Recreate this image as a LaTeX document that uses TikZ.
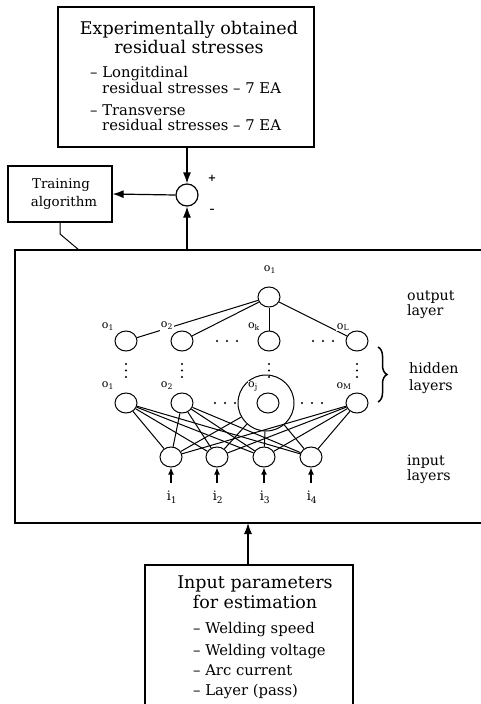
\documentclass[tikz,border=0pt]{standalone}
\usepackage{fontspec}
\setmainfont{DejaVu Serif}
\usetikzlibrary{arrows.meta,shapes.geometric,decorations.pathreplacing}

\begin{document}
\begin{tikzpicture}[x=1pt,y=-1pt,
  box/.style={draw,line width=1.2pt,inner sep=0pt},
  neuron/.style={draw,ellipse,minimum width=22pt,minimum height=20pt,inner sep=0pt,line width=1pt},
  wire/.style={line width=1pt},
  arr/.style={line width=1.2pt,-{Latex[length=11pt,width=8pt]}},
  big/.style={font=\fontsize{17.5}{20}\selectfont,inner sep=0pt,anchor=base},
  item/.style={font=\fontsize{14.8}{16}\selectfont,inner sep=0pt,anchor=base west},
  side/.style={font=\fontsize{14.2}{16}\selectfont,inner sep=0pt,anchor=base west},
  olab/.style={font=\fontsize{11}{12}\selectfont,inner sep=0.6pt,fill=white},
  ilab/.style={font=\fontsize{13}{14}\selectfont,inner sep=0pt},
  dot/.style={fill,circle,inner sep=0pt,minimum size=2.4pt},
]
\useasboundingbox (0,0) rectangle (481,704);

% ---- measured residual stresses
\node[box,minimum width=256pt,minimum height=140pt] (exp) at (186,77) {};
\node[big] at (189,34) {Experimentally obtained};
\node[big] at (189,53) {residual stresses};
\node[item] at (90,77) {– Longitdinal};
\node[item] at (102,93) {residual stresses – 7 EA};
\node[item] at (90,115) {– Transverse};
\node[item] at (102,130) {residual stresses – 7 EA};

% ---- error junction and training block
\node[draw,circle,minimum size=22pt,inner sep=0pt,line width=1.2pt] (sum) at (187,195) {};
\node[font=\bfseries\fontsize{10}{11}\selectfont] at (212,178) {+};
\node[font=\bfseries\fontsize{10}{11}\selectfont] at (212,211) {–};
\node[box,minimum width=104pt,minimum height=56pt] (train) at (60,194) {};
\node[font=\fontsize{13.4}{15}\selectfont,inner sep=0pt,anchor=base] at (61,188) {Training};
\node[font=\fontsize{13.4}{15}\selectfont,inner sep=0pt,anchor=base] at (64,206) {algorithm};

\draw[arr] (exp.south -| sum) -- (sum.north);
\draw[arr] (sum.west) -- (train.east);

% ---- network frame (open on the right)
\coordinate (ntop) at (187,250);
\coordinate (nbot) at (248,523);
\coordinate (tlink) at (79,250);
\coordinate (tbend) at (60,234);
\draw[line width=1.2pt] (481,250) -- (15,250) -- (15,523) -- (481,523);
\draw[arr] (ntop) -- (sum.south);
\draw[wire] (train.south -| tbend) -- (tbend) -- (tlink);

% ---- neurons
\node[neuron] (t) at (269,297) {};
\node[neuron] (u1) at (126,341) {};
\node[neuron] (u2) at (182,341) {};
\node[neuron] (uk) at (269,341) {};
\node[neuron] (uL) at (357,341) {};
\node[neuron] (h1) at (126,403) {};
\node[neuron] (h2) at (182,403) {};
\node[draw,circle,minimum size=56pt,inner sep=0pt,line width=1pt] (hj) at (266,403) {};
\node[neuron] (hjc) at (268,403) {};
\node[neuron] (hM) at (357,403) {};
\node[neuron] (i1) at (171,457) {};
\node[neuron] (i2) at (217,457) {};
\node[neuron] (i3) at (264,457) {};
\node[neuron] (i4) at (311,457) {};

% output-layer connections
\draw[wire] (t) -- (u1);
\draw[wire] (t) -- (u2);
\draw[wire] (t) -- (uk);
\draw[wire] (t) -- (uL);

% hidden-to-input connections
\foreach \h in {h1,h2,hj,hM}
  \foreach \i in {i1,i2,i3,i4}
    \draw[wire] (\h) -- (\i);

% neuron labels
\node[olab] at (270,270) {o\textsubscript{1}};
\node[olab] at (108,327) {o\textsubscript{1}};
\node[olab] at (167,326) {o\textsubscript{2}};
\node[olab] at (254,327) {o\textsubscript{k}};
\node[olab] at (343,327) {o\textsubscript{L}};
\node[olab] at (108,386) {o\textsubscript{1}};
\node[olab] at (167,386) {o\textsubscript{2}};
\node[olab] at (253,386) {o\textsubscript{j}};
\node[olab] at (344,386) {o\textsubscript{M}};

% ellipsis dots
\foreach \x in {217,227,237,313,323,333} \node[dot] at (\x,341) {};
\foreach \x in {215,225,235,302,312,322} \node[dot] at (\x,403) {};
\foreach \x in {126,182,269,357} \foreach \y in {364,370.5,377} \node[dot] at (\x,\y) {};

% inputs
\foreach \n/\x in {1/171,2/217,3/264,4/311}{
  \coordinate (in\n) at (\x,483);
  \draw[line width=1.2pt,-{Latex[length=7pt,width=6pt]}] (in\n) -- (i\n.south);
  \node[ilab] at (\x+1,497) {i\textsubscript{\n}};
}

% layer captions
\draw[line width=1.5pt,decorate,decoration={brace,amplitude=9pt}] (378,347) -- (378,402);
\node[side] at (407,300) {output};
\node[side] at (407,315) {layer};
\node[side] at (409,373) {hidden};
\node[side] at (409,390) {layers};
\node[side] at (407,465) {input};
\node[side] at (407,480) {layers};

% ---- welding inputs
\draw[box] (145,720) -- (145,565) -- (353,565) -- (353,720);
\coordinate (pin) at (248,565);
\draw[arr] (pin) -- (nbot);
\node[big] at (255,588) {Input parameters};
\node[big] at (255,608) {for estimation};
\node[item] at (193,633) {– Welding speed};
\node[item] at (193,655) {– Welding voltage};
\node[item] at (193,675) {– Arc current};
\node[item] at (193,695) {– Layer (pass)};
\end{tikzpicture}
\end{document}
